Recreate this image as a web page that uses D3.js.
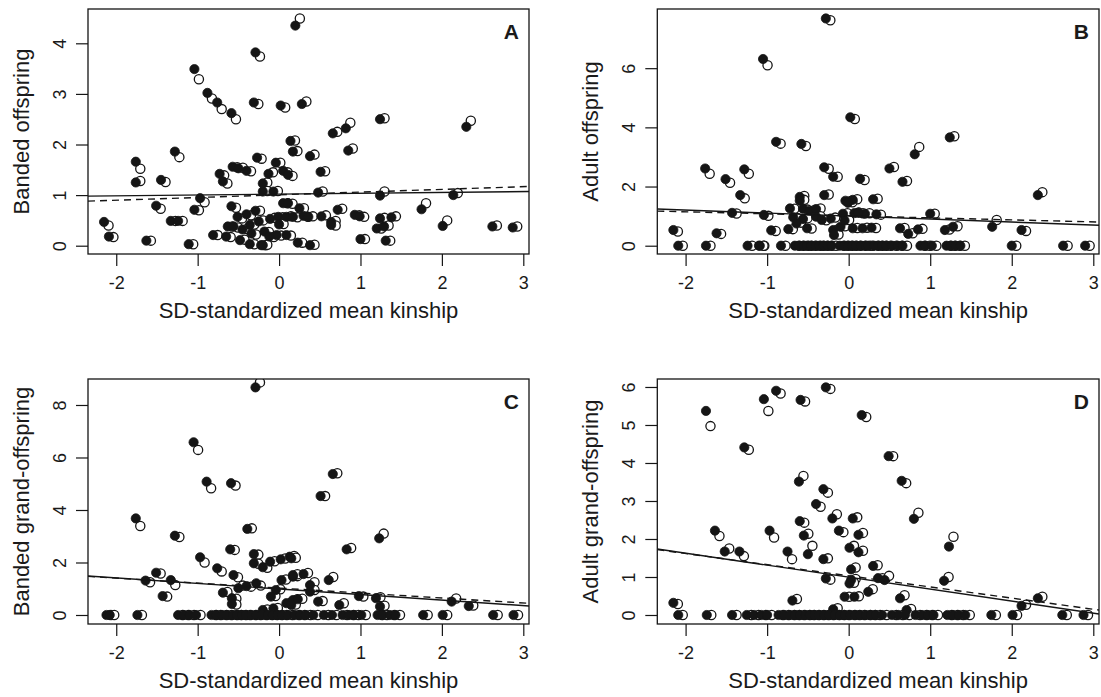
<!DOCTYPE html>
<html><head><meta charset="utf-8">
<script src="https://cdn.jsdelivr.net/npm/d3@7"></script>
<style>body{margin:0;background:#fff}svg{display:block}text{font-family:"Liberation Sans",Arial,Helvetica,sans-serif;fill:#1a1a1a}</style>
</head><body><svg id="c" width="1101" height="697"></svg>
<script>
// ---- data (x = SD-standardized mean kinship; [x, y filled, y open]) ----
const panelLetters = ["A","B","C","D"];
const yTitles = ["Banded offspring","Adult offspring","Banded grand-offspring","Adult grand-offspring"];
const xTitle = "SD-standardized mean kinship";
const xTicks = [-2,-1,0,1,2,3];
const yTicksA = [0,1,2,3,4];
const yTicksB = [0,2,4,6];
const yTicksC = [0,2,4,6,8];
const yTicksD = [0,1,2,3,4,5,6];
// regression fits [intercept, slope]
const solidFit = [[1.019,0.0166],[1.002,-0.1015],[0.991,-0.211],[0.996,-0.316]];
const dashedFit = [[1.006,0.0535],[1.010,-0.0683],[1.026,-0.189],[1.031,-0.2935]];

const pointsA = [[0.20,4.35,4.49],[-0.29,3.82,3.74],[-1.04,3.49,3.29],[-0.88,3.02,2.91],[-0.76,2.83,2.70],[-0.585,2.62,2.50],
[-0.31,2.83,2.80],[0.02,2.77,2.73],[0.28,2.80,2.85],[1.24,2.50,2.52],[0.66,2.22,2.25],[0.82,2.32,2.43],[0.85,1.88,1.92],
[0.14,2.07,2.08],[0.17,1.86,1.87],[0.38,1.77,1.80],[-0.27,1.74,1.72],[-0.04,1.64,1.64],[0.05,1.48,1.45],[0.11,1.40,1.38],
[0.51,1.46,1.47],[-1.28,1.86,1.75],[-1.76,1.66,1.52],[-1.76,1.25,1.28],[-1.45,1.30,1.26],[-0.73,1.42,1.39],[-0.69,1.27,1.23],
[-0.57,1.56,1.55],[-0.50,1.53,1.54],[-0.40,1.48,1.47],[-0.13,1.42,1.45],[-0.20,1.23,1.25],[-0.20,1.07,1.08],[-0.07,1.07,1.08],
[0.48,1.05,1.07],[1.24,0.99,1.07],[2.14,1.00,1.04],[2.30,2.35,2.47],[1.75,0.72,0.84],[2.01,0.39,0.50],[2.62,0.38,0.40],
[2.87,0.36,0.38],[-2.15,0.47,0.40],[-2.09,0.18,0.17],[-1.63,0.10,0.10],[-1.51,0.79,0.73],[-1.33,0.49,0.49],[-1.24,0.49,0.49],
[-1.04,0.71,0.70],[-0.97,0.94,0.86],[-1.11,0.03,0.03],[-0.81,0.21,0.21],[-0.585,0.78,0.75],[-0.51,0.57,0.54],[-0.63,0.38,0.38],
[-0.56,0.38,0.36],[-0.65,0.18,0.17],[-0.48,0.11,0.12],[-0.36,0.41,0.42],[-0.34,0.24,0.22],[-0.36,0.03,0.03],[-0.29,0.69,0.69],
[-0.22,0.01,0.01],[-0.18,0.28,0.27],[-0.11,0.53,0.55],[-0.03,0.21,0.20],[0.09,0.21,0.20],[0.05,0.84,0.84],[0.11,0.84,0.83],
[0.25,0.74,0.74],[-0.01,0.57,0.56],[0.09,0.57,0.58],[0.17,0.57,0.56],[0.30,0.59,0.57],[0.36,0.57,0.58],[0.52,0.58,0.60],
[0.64,0.47,0.49],[0.64,0.41,0.40],[0.72,0.71,0.73],[0.93,0.61,0.60],[0.99,0.58,0.57],[1.24,0.54,0.55],[1.38,0.56,0.58],
[1.20,0.34,0.34],[1.29,0.38,0.40],[1.00,0.13,0.13],[1.31,0.10,0.10],[0.23,0.06,0.06],[0.38,0.01,0.02],[-0.20,0.01,0.02],
[-0.45,0.32,0.33],[-0.12,0.18,0.17],[0.00,0.42,0.43],[-0.25,0.48,0.50],[-0.40,0.62,0.60]];

const pointsB = [[-0.28,7.68,7.62],[-1.05,6.31,6.10],[0.02,4.34,4.28],[-0.89,3.51,3.45],[-0.58,3.44,3.37],[-1.76,2.61,2.43],
[-1.51,2.25,2.13],[-1.28,2.58,2.43],[-1.33,1.71,1.60],[-0.30,2.65,2.60],[-0.19,2.33,2.33],[0.14,2.26,2.22],[0.50,2.61,2.66],
[0.66,2.16,2.19],[0.81,3.09,3.34],[1.24,3.66,3.70],[2.32,1.71,1.81],[1.76,0.64,0.87],[2.12,0.53,0.50],[1.00,1.08,1.08],
[0.30,1.57,1.59],[-0.04,1.52,1.50],[0.05,1.55,1.57],[-0.60,1.65,1.68],[-0.60,1.52,1.55],[-0.30,1.71,1.73],[-1.43,1.11,1.09],
[-1.04,1.04,1.01],[-2.15,0.53,0.48],[-1.62,0.42,0.40],[-0.95,0.52,0.50],[-0.74,0.56,0.56],[-0.51,0.59,0.58],[-0.72,1.26,1.25],
[-0.56,1.25,1.22],[-0.48,1.18,1.20],[-0.40,1.24,1.26],[-0.68,0.96,0.94],[-0.56,0.90,0.93],[-0.40,0.98,1.00],[-0.33,0.87,0.86],
[-0.22,0.92,0.95],[-0.07,1.08,1.10],[0.07,1.10,1.12],[0.20,1.08,1.10],[0.34,1.06,1.05],[0.12,1.12,1.10],[-0.19,0.53,0.55],
[-0.18,0.36,0.38],[-0.10,0.64,0.66],[0.05,0.59,0.60],[0.17,0.59,0.61],[0.28,0.61,0.60],[0.63,0.59,0.60],[0.73,0.40,0.42],
[0.85,0.55,0.57],[1.18,0.53,0.55],[1.28,0.64,0.66],[-0.01,1.45,1.47],[-0.64,0.75,0.78],[-0.05,0.85,0.87]];
const zerosB = [-2.09,-1.75,-1.24,-1.09,-1.10,-0.83,-0.66,-0.61,-0.55,-0.51,-0.46,-0.40,-0.36,-0.31,-0.26,-0.21,-0.11,-0.06,-0.01,
0.04,0.09,0.15,0.21,0.24,0.31,0.36,0.41,0.46,0.53,0.60,0.66,0.88,0.94,1.02,1.20,1.25,1.31,1.37,2.00,2.63,2.90];

const pointsC = [[-0.29,8.67,8.86],[-1.05,6.58,6.29],[-0.89,5.08,4.83],[-0.59,5.02,4.93],[-1.76,3.68,3.39],[-1.28,3.02,2.97],
[-0.39,3.28,3.30],[-0.60,2.50,2.48],[-0.97,2.20,2.00],[-0.31,2.32,2.30],[-0.31,1.97,1.95],[-0.76,1.78,1.66],[-1.51,1.61,1.58],
[-1.64,1.31,1.25],[-1.33,1.33,1.14],[-1.43,0.72,0.70],[-0.56,1.52,1.44],[-0.69,0.85,0.88],[-0.58,0.64,0.62],[-0.58,0.42,0.40],
[-0.50,1.02,1.12],[-0.28,1.21,1.12],[-0.20,1.82,1.80],[-0.11,2.03,2.05],[0.02,2.12,2.15],[0.13,2.22,2.25],[0.03,1.33,1.35],
[0.17,1.46,1.48],[-0.04,0.95,0.98],[0.09,0.45,0.47],[0.17,0.57,0.60],[-0.20,0.19,0.21],[-0.07,0.25,0.27],[0.66,5.37,5.40],
[0.51,4.53,4.53],[1.23,2.92,3.10],[0.83,2.50,2.55],[0.61,1.33,1.45],[0.15,2.16,2.18],[0.30,1.56,1.60],[0.17,1.52,1.55],
[0.38,1.14,1.25],[0.38,0.89,0.95],[0.23,0.60,0.62],[0.15,0.38,0.40],[0.48,0.51,0.53],[0.74,0.38,0.45],[0.98,0.72,0.70],
[1.19,0.64,0.68],[1.24,0.32,0.35],[2.12,0.51,0.63],[2.33,0.34,0.36],[-0.40,1.10,1.08],[-0.10,0.70,0.72]];
const zerosC = [-2.12,-2.08,-1.74,-1.24,-1.17,-1.10,-1.02,-0.83,-0.77,-0.70,-0.64,-0.57,-0.52,-0.46,-0.41,-0.34,-0.28,-0.21,-0.14,
-0.08,-0.02,0.04,0.11,0.19,0.26,0.33,0.42,0.55,0.65,0.78,0.86,0.92,1.01,1.21,1.27,1.36,1.43,1.77,2.01,2.63,2.88];

const pointsD = [[-1.75,5.37,4.97],[-1.04,5.68,5.37],[-0.89,5.90,5.83],[-0.59,5.66,5.62],[-0.28,5.99,5.95],[-1.28,4.41,4.35],
[-0.61,3.51,3.66],[-0.31,3.31,3.22],[-0.40,2.92,2.85],[-0.60,2.47,2.43],[-0.55,2.09,2.14],[-0.50,1.60,1.82],[-0.20,2.54,2.65],
[-0.12,2.22,2.18],[-1.64,2.22,2.08],[-0.97,2.22,2.04],[-1.52,1.67,1.75],[-1.34,1.67,1.55],[-0.75,1.67,1.47],[-0.31,1.47,1.49],
[-0.28,0.96,0.93],[-0.69,0.38,0.42],[-2.15,0.32,0.29],[-0.19,0.15,0.18],[0.16,5.26,5.21],[0.49,4.18,4.18],[0.65,3.53,3.47],
[0.80,2.53,2.69],[1.23,1.80,2.06],[1.17,0.90,1.00],[0.05,2.54,2.57],[0.12,2.11,2.16],[0.01,1.77,1.82],[0.12,1.65,1.69],
[0.30,1.29,1.31],[0.03,1.20,1.25],[0.03,0.92,0.95],[0.01,0.83,0.85],[0.36,0.97,0.97],[0.44,0.92,1.03],[-0.05,0.48,0.48],
[0.07,0.48,0.49],[0.24,0.61,0.68],[0.63,0.44,0.52],[0.71,0.13,0.16],[2.32,0.44,0.48],[2.12,0.24,0.27]];
const zerosD = [-2.09,-1.74,-1.43,-1.25,-1.16,-1.07,-1.00,-0.86,-0.79,-0.72,-0.66,-0.60,-0.53,-0.48,-0.42,-0.36,-0.30,-0.24,-0.17,
-0.11,-0.05,0.02,0.08,0.14,0.21,0.27,0.33,0.41,0.53,0.61,0.69,0.82,0.90,0.97,1.04,1.21,1.28,1.35,1.43,1.75,2.01,2.62,2.88];

// ---- layout ----
const xDomain = [-2.347, 3.07];
const boxes = [
  {l:88, r:529, t:9, b:254, yd:[-0.164,4.678], yt:yTicksA, pts:pointsA, zeros:[]},
  {l:657.3, r:1099, t:9, b:254, yd:[-0.28,8.0], yt:yTicksB, pts:pointsB, zeros:zerosB},
  {l:88, r:529, t:379, b:624, yd:[-0.343,8.99], yt:yTicksC, pts:pointsC, zeros:zerosC},
  {l:657.3, r:1099, t:379, b:624, yd:[-0.237,6.21], yt:yTicksD, pts:pointsD, zeros:zerosD}
];
const R = 4.6, OPEN_DX = 4.5, INK = "#151515";

const svg = d3.select("#c");
boxes.forEach((B, i) => {
  const x = d3.scaleLinear().domain(xDomain).range([B.l, B.r]);
  const y = d3.scaleLinear().domain(B.yd).range([B.b, B.t]);
  const g = svg.append("g");
  const cid = "clip" + i;
  svg.append("clipPath").attr("id", cid).append("rect")
    .attr("x", B.l).attr("y", B.t).attr("width", B.r - B.l).attr("height", B.b - B.t);

  const all = B.pts.concat(B.zeros.map(v => [v, 0, 0]));
  const pg = g.append("g").attr("clip-path", `url(#${cid})`);
  // open circles first
  pg.selectAll("circle.o").data(all).join("circle").attr("class","o")
    .attr("cx", d => x(d[0]) + OPEN_DX).attr("cy", d => y(d[2])).attr("r", R)
    .attr("fill", "#fff").attr("stroke", INK).attr("stroke-width", 1.3);
  pg.selectAll("circle.f").data(all).join("circle").attr("class","f")
    .attr("cx", d => x(d[0])).attr("cy", d => y(d[1])).attr("r", R)
    .attr("fill", INK).attr("stroke", INK).attr("stroke-width", 0.8);

  // regression lines
  const line = d3.line().x(d => x(d[0])).y(d => y(d[1]));
  const fitPts = f => xDomain.map(v => [v, f[0] + f[1] * v]);
  pg.append("path").attr("d", line(fitPts(solidFit[i]))).attr("fill","none").attr("stroke", INK).attr("stroke-width", 1.4);
  pg.append("path").attr("d", line(fitPts(dashedFit[i]))).attr("fill","none").attr("stroke", INK).attr("stroke-width", 1.4).attr("stroke-dasharray","7,5");

  // box
  g.append("rect").attr("x", B.l).attr("y", B.t).attr("width", B.r - B.l).attr("height", B.b - B.t)
    .attr("fill","none").attr("stroke", INK).attr("stroke-width", 1.3);

  // x axis
  const xa = g.append("g").attr("transform", `translate(0,${B.b})`)
    .call(d3.axisBottom(x).tickValues(xTicks).tickSize(12).tickSizeOuter(0).tickPadding(6).tickFormat(d3.format("d")));
  xa.select(".domain").remove();
  xa.selectAll("line").attr("stroke", INK).attr("stroke-width", 1.2);
  xa.selectAll("text").attr("font-size", 18).attr("fill", INK).attr("y", 0).attr("dy", 0)
    .attr("transform", "translate(0,29)").attr("dominant-baseline","central")
    .text(d => d < 0 ? "-" + Math.abs(d) : d);

  // y axis
  const ya = g.append("g").attr("transform", `translate(${B.l},0)`)
    .call(d3.axisLeft(y).tickValues(B.yt).tickSize(12).tickSizeOuter(0).tickFormat(d3.format("d")));
  ya.select(".domain").remove();
  ya.selectAll("line").attr("stroke", INK).attr("stroke-width", 1.2);
  ya.selectAll("text").attr("font-size", 18).attr("fill", INK).attr("x", 0).attr("dy", 0)
    .attr("text-anchor","middle").attr("dominant-baseline","central")
    .attr("transform", "translate(-28,0) rotate(-90)");

  // titles
  g.append("text").attr("x", (B.l + B.r) / 2).attr("y", B.b + 56).attr("text-anchor","middle")
    .attr("dominant-baseline","central").attr("font-size", 22).text(xTitle);
  g.append("text").attr("transform", `translate(${B.l - 67},${(B.t + B.b) / 2}) rotate(-90)`)
    .attr("text-anchor","middle").attr("dominant-baseline","central").attr("font-size", 22).text(yTitles[i]);
  g.append("text").attr("x", B.r - 10).attr("y", B.t + 22).attr("text-anchor","end")
    .attr("dominant-baseline","central").attr("font-size", 21).attr("font-weight","bold").text(panelLetters[i]);
});
</script></body></html>
